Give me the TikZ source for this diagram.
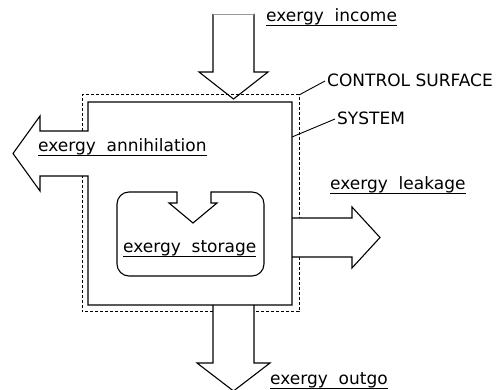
\documentclass[tikz,border=0pt]{standalone}
\usepackage{fontspec}
\setmainfont{DejaVu Sans}
\usetikzlibrary{calc}
\begin{document}
\begin{tikzpicture}[x=1pt,y=-1pt,
  solidline/.style={line width=1.1pt,line join=miter},
  ctrlline/.style={line width=1pt,dash pattern=on 3pt off 2pt},
  leader/.style={line width=0.9pt},
  uline/.style={line width=0.8pt},
  lbl/.style={inner sep=0pt,anchor=base west,font=\fontsize{17}{20}\selectfont}]
\useasboundingbox (0,0) rectangle (496,390);
% system boundary with annihilation arrow
\draw[solidline] (88,176) -- (88,305) -- (292,305) -- (292,102) -- (88,102) -- (88,131)
  -- (40,131) -- (40,116) -- (13,153.5) -- (40,191) -- (40,176) -- cycle;
% control surface
\coordinate (csTL) at (82,95);
\coordinate (csTR) at (299,95);
\draw[ctrlline] (82,131) -- (csTL) -- (csTR) -- (299,218);
\draw[ctrlline] (299,257) -- (299,312) -- (254,312);
\draw[ctrlline] (213,312) -- (82,312) -- (82,176);
% income arrow
\draw[solidline] (213,14) -- (213,72) -- (199,72) -- (233.5,99) -- (268,72) -- (254,72) -- (254,14);
\draw[line width=0.6pt,black!40] (213,14) -- (254,14);
% leakage arrow
\draw[solidline] (292,218) -- (352,218) -- (352,207) -- (380,237.5) -- (352,268) -- (352,257) -- (292,257);
% outgo arrow
\draw[solidline] (213,305) -- (213,363) -- (197,363) -- (233.5,391) -- (270,363) -- (254,363) -- (254,305);
% storage box with notch
\draw[solidline] (177,192) -- (177,203) -- (169,203) -- (193,223) -- (217,203) -- (211,203) -- (211,192)
  -- (252,192) arc[start angle=270,end angle=360,radius=12]
  -- (264,264) arc[start angle=0,end angle=90,radius=12]
  -- (129,276) arc[start angle=90,end angle=180,radius=12]
  -- (117,204) arc[start angle=180,end angle=270,radius=12]
  -- cycle;
% labels
\node[lbl] (inc) at (266,22) {exergy\ \ income};
\node[lbl] (ann) at (38,152) {exergy\ \ annihilation};
\node[lbl] (lea) at (330,190) {exergy\ \ leakage};
\node[lbl] (sto) at (123,253) {exergy\ \ storage};
\node[lbl] (out) at (270,385) {exergy\ \ outgo};
\node[lbl] (cs) at (327,87) {CONTROL SURFACE};
\node[lbl] (sys) at (337,125) {SYSTEM};
\foreach \n in {inc,ann,lea,sto,out}
  \draw[uline] ($(\n.base west)+(0,3.5)$) -- ($(\n.base east)+(0,3.5)$);
% leaders
\coordinate (sysP) at (292,137);
\draw[leader] (csTR) -- ($(cs.base west)+(-2,-6)$);
\draw[leader] (sysP) -- ($(sys.base west)+(-2,-6)$);
\end{tikzpicture}
\end{document}
